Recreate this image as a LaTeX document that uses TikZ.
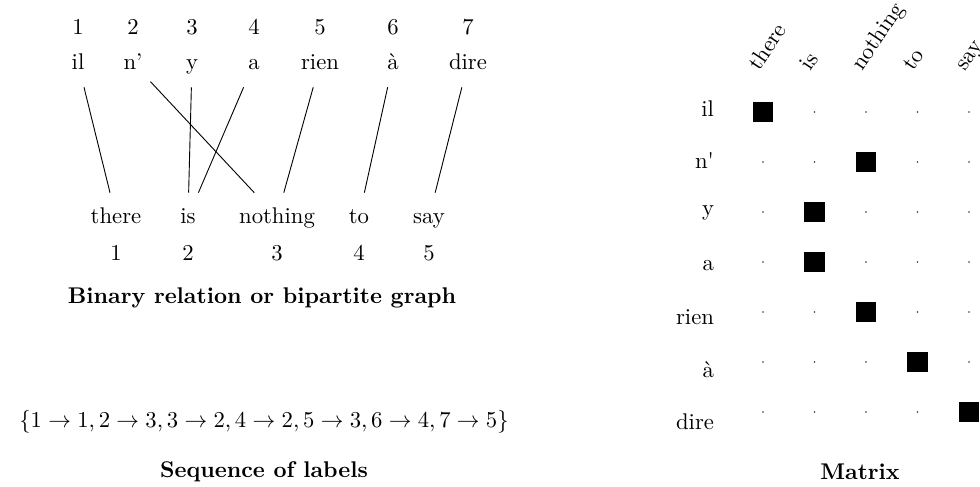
\documentclass[tikz,border=0pt]{standalone}
\usepackage{amsmath}
\usepackage{amsfonts}
\usepackage{tikz}
\usetikzlibrary{arrows.meta,positioning}

\tikzset{
  word/.style={minimum height=21pt, text height=1.5ex, text depth=.25ex},
  cell/.style={fill, inner sep=0pt, minimum size=9.2pt},
  spot/.style={circle, fill=black!80, inner sep=0pt, minimum size=0.8pt},
  caption/.style={font=\bfseries}
}

\begin{document}
\begin{tikzpicture}[x=0.4405pt,y=-0.4405pt]
    \useasboundingbox (0,0) rectangle (980,487);
    % source words and their positions
    \foreach \x/\w [count=\i] in {78/il,133/n',192/y,254/a,320/rien,393/à,468/dire} {
        \node (fn\i) at (\x,27) {\i};
        \node[word] (f\i) at (\x,63) {\w};
    }
    % target words and their positions
    \foreach \x/\w [count=\i] in {116/there,188/is,277/nothing,359/to,429/say} {
        \node[word] (e\i) at (\x,217) {\w};
        \node (en\i) at (\x,253) {\i};
    }
    \foreach \a/\b in {1/1,2/3,3/2,4/2,5/3,6/4,7/5} \draw (f\a) -- (e\b);
    \node[caption] (cap1) at (262,298) {Binary relation or bipartite graph};

    \node (seq) at (264,422) {$\{1\to1,2\to3,3\to2,4\to2,5\to3,6\to4,7\to5\}$};
    \node[caption] (cap2) at (264,472) {Sequence of labels};

    % matrix
    \foreach \w [count=\j] in {there,is,nothing,to,say}
        \node[rotate=56, anchor=base west, inner sep=0pt] (col\j) at (759+51.5*\j-51.5,72) {\w};
    \foreach \w [count=\i] in {il,n\textquotesingle,y,a,rien,à,dire} {
        \node[anchor=east] (row\i) at (722,56+52.3*\i) {\w};
        \foreach \j in {1,...,5}
            \node[spot] (m\i\j) at (711.5+51.5*\j,62+50*\i) {};
    }
    \foreach \i/\j in {1/1,2/3,3/2,4/2,5/3,6/4,7/5}
        \node[cell] (c\i) at (m\i\j) {};
    \node[caption] (cap3) at (860,472) {Matrix};
\end{tikzpicture}
\end{document}
